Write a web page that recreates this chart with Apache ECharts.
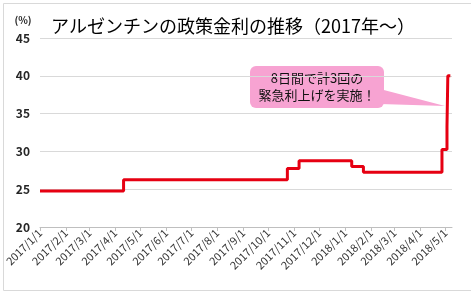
<!DOCTYPE html>
<html>
<head>
<meta charset="utf-8">
<script src="https://cdn.jsdelivr.net/npm/echarts@6/dist/echarts.min.js"></script>
<style>html,body{margin:0;padding:0;background:#fff}#c{width:471px;height:291px}</style>
</head>
<body>
<div id="c"></div>
<script>
// Data
const changeDates = ['2017-01-01','2017-04-11','2017-10-24','2017-11-07','2018-01-09','2018-01-23','2018-04-27','2018-05-03','2018-05-04','2018-05-07'];
const rates =       [24.75,       26.25,       27.75,       28.75,       28.00,       27.25,       30.25,       33.25,       40.00,       40.00];
const monthLabels = ['2017/1/1','2017/2/1','2017/3/1','2017/4/1','2017/5/1','2017/6/1','2017/7/1','2017/8/1','2017/9/1','2017/10/1','2017/11/1','2017/12/1','2018/1/1','2018/2/1','2018/3/1','2018/4/1','2018/5/1'];
const yTicks = [20,25,30,35,40,45];
const titleText = 'アルゼンチンの政策金利の推移（2017年～）';
const noteText = '8日間で計3回の\n緊急利上げを実施！';

function toTs(s){ const p = s.split(/[-\/]/).map(Number); return Date.UTC(p[0], p[1]-1, p[2]); }
const monthTs = monthLabels.map(toTs);
const seriesData = changeDates.map((d,i)=>[toTs(d), rates[i]]);

const chart = echarts.init(document.getElementById('c'));
chart.setOption({
  animation: false,
  grid: {left: 40, right: 19, top: 38, bottom: 64},
  xAxis: {
    type: 'value',
    min: toTs('2017-01-01'),
    max: toTs('2018-05-09'),
    axisLine: {lineStyle: {color: '#bfbfbf', width: 1}},
    axisTick: {show: true, customValues: monthTs, length: 4, lineStyle: {color: '#bfbfbf'}},
    axisLabel: {
      customValues: monthTs,
      rotate: 45,
      fontSize: 11,
      color: '#333333',
      fontFamily: 'Noto Sans CJK JP',
      margin: 4,
      formatter: function(v){ const i = monthTs.indexOf(v); return i >= 0 ? monthLabels[i] : ''; }
    },
    splitLine: {show: false}
  },
  yAxis: {
    type: 'value',
    min: 20, max: 45, interval: 5,
    axisLine: {show: false},
    axisTick: {show: false},
    axisLabel: {fontSize: 12, fontWeight: 'bold', color: '#262626', fontFamily: 'Noto Sans CJK JP', margin: 10,
      formatter: v => yTicks.includes(v) ? String(v) : ''},
    splitLine: {lineStyle: {color: '#d9d9d9', width: 1}}
  },
  series: [{
    type: 'line',
    step: 'end',
    data: seriesData,
    showSymbol: false,
    lineStyle: {color: '#e60012', width: 3},
    itemStyle: {color: '#e60012'}
  }],
  graphic: [
    {type: 'rect', left: 1, top: 1, shape: {width: 468, height: 287}, style: {fill: 'none', stroke: '#d9d9d9', lineWidth: 1}, silent: true},
    {type: 'text', x: 233, y: 26, style: {text: titleText, fontSize: 18, fontFamily: 'Noto Sans CJK JP', fill: '#000', align: 'center', verticalAlign: 'middle'}},
    {type: 'text', x: 23, y: 20, style: {text: '(%)', fontSize: 10, fontWeight: 'bold', fontFamily: 'Noto Sans CJK JP', fill: '#262626', align: 'center', verticalAlign: 'middle'}},
    {type: 'polygon', shape: {points: [[380,89],[445,106],[380,104]]}, style: {fill: '#f7a3d2'}},
    {type: 'rect', shape: {x: 250, y: 66, width: 134, height: 42, r: 6}, style: {fill: '#f7a3d2'}},
    {type: 'text', x: 317, y: 87, style: {text: noteText, fontSize: 13, fontFamily: 'Noto Sans CJK JP', fill: '#111', align: 'center', verticalAlign: 'middle', lineHeight: 17}}
  ]
});
</script>
</body>
</html>
